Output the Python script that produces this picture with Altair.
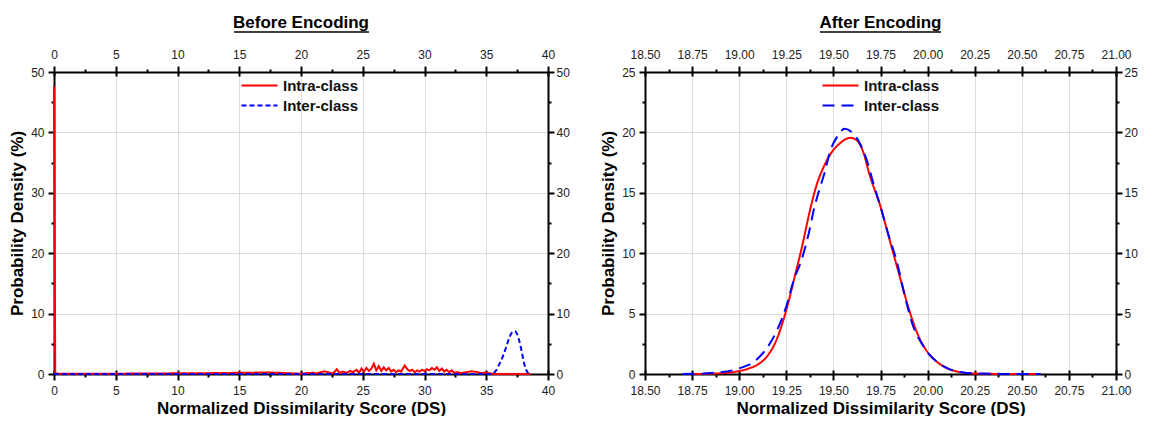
import altair as alt
import pandas as pd

FONT = "Liberation Sans"
SERIES = ["Intra-class", "Inter-class"]
COLORS = ["#ff0000", "#0000ff"]
X_TITLE = "Normalized Dissimilarity Score (DS)"
Y_TITLE = "Probability Density (%)"

# ---------------- Before Encoding (x, y %) ----------------
before_intra = [
    (0.0, 47.6), (0.1, 0.1), (0.5, 0.03), (1.5, 0.03), (3.0, 0.04), (5.0, 0.05),
    (7.0, 0.08), (9.0, 0.1), (11.0, 0.12), (13.0, 0.15), (15.0, 0.2), (16.0, 0.22),
    (17.0, 0.25), (18.0, 0.22), (19.0, 0.12), (20.0, 0.05), (20.5, 0.15), (21.0, 0.2),
    (21.3, 0.1), (21.6, 0.3), (21.9, 0.45), (22.2, 0.3), (22.5, 0.1), (22.7, 0.3),
    (22.9, 0.8), (23.1, 0.2), (23.4, 0.4), (23.7, 0.2), (24.0, 0.5), (24.2, 0.3),
    (24.5, 0.7), (24.7, 0.2), (24.9, 0.9), (25.1, 0.4), (25.3, 1.0), (25.5, 0.5),
    (25.7, 0.9), (25.9, 1.7), (26.1, 0.6), (26.3, 1.3), (26.5, 0.5), (26.7, 1.1),
    (26.9, 0.6), (27.1, 1.0), (27.3, 0.4), (27.5, 0.7), (27.7, 0.3), (27.9, 0.6),
    (28.1, 0.4), (28.4, 1.4), (28.6, 0.8), (28.8, 0.5), (29.0, 0.7), (29.2, 0.3),
    (29.4, 0.6), (29.6, 0.4), (29.8, 0.7), (30.0, 0.5), (30.2, 0.8), (30.4, 0.6),
    (30.6, 1.0), (30.8, 0.7), (31.0, 1.1), (31.2, 0.5), (31.4, 0.9), (31.6, 0.4),
    (31.8, 0.7), (32.0, 0.3), (32.2, 0.6), (32.4, 0.2), (32.7, 0.3), (33.0, 0.15),
    (33.4, 0.3), (33.8, 0.45), (34.2, 0.35), (34.6, 0.15), (35.0, 0.25), (35.3, 0.1),
    (35.6, 0.02), (36.0, 0.0), (38.6, 0.0),
]
before_inter = [
    (0.0, 0.0), (10.0, 0.0), (20.0, 0.0), (30.0, 0.0), (35.4, 0.0), (35.8, 0.6),
    (36.1, 1.8), (36.4, 3.2), (36.65, 4.7), (36.9, 6.2), (37.1, 6.9), (37.3, 7.1),
    (37.5, 6.6), (37.7, 5.3), (37.9, 3.4), (38.1, 1.5), (38.3, 0.4), (38.5, 0.0),
]

# ---------------- After Encoding (x, y %) ----------------
after_intra = [
    (18.75, 0.0), (18.85, 0.03), (18.95, 0.12), (19.0, 0.25), (19.05, 0.45),
    (19.1, 0.8), (19.15, 1.5), (19.2, 2.9), (19.25, 5.3), (19.3, 8.4), (19.33, 10.3),
    (19.375, 13.5), (19.41, 15.6), (19.45, 17.2), (19.48, 18.1), (19.535, 19.1),
    (19.59, 19.55), (19.62, 19.4), (19.66, 18.3), (19.69, 16.6), (19.75, 13.85),
    (19.8, 11.0), (19.85, 8.2), (19.9, 5.4), (19.95, 3.2), (20.0, 1.8), (20.05, 1.0),
    (20.1, 0.5), (20.15, 0.22), (20.2, 0.1), (20.25, 0.04), (20.35, 0.01), (20.6, 0.0),
]
after_inter = [
    (18.7, 0.0), (18.8, 0.03), (18.9, 0.15), (18.95, 0.25), (19.0, 0.47), (19.05, 0.75),
    (19.09, 1.16), (19.14, 2.0), (19.2, 3.6), (19.25, 5.6), (19.29, 7.8), (19.33, 9.4),
    (19.367, 11.5), (19.4, 13.85), (19.43, 15.5), (19.455, 16.75), (19.48, 18.3),
    (19.52, 19.65), (19.56, 20.3), (19.605, 19.9), (19.64, 19.1), (19.677, 17.7),
    (19.71, 15.9), (19.75, 13.85), (19.79, 11.65), (19.835, 9.4), (19.88, 6.4),
    (19.92, 4.1), (19.97, 2.5), (20.01, 1.6), (20.06, 0.9), (20.11, 0.45), (20.18, 0.15),
    (20.25, 0.05), (20.4, 0.01), (20.6, 0.0),
]

# ---------------- ticks ----------------
before_x_major = [0, 5, 10, 15, 20, 25, 30, 35, 40]
before_x_minor = [2.5, 7.5, 12.5, 17.5, 22.5, 27.5, 32.5, 37.5]
before_y_major = [0, 10, 20, 30, 40, 50]
before_y_minor = [5, 15, 25, 35, 45]
after_x_major = [18.5, 18.75, 19.0, 19.25, 19.5, 19.75, 20.0, 20.25, 20.5, 20.75, 21.0]
after_x_minor = [18.625, 18.875, 19.125, 19.375, 19.625, 19.875, 20.125, 20.375, 20.625, 20.875]
after_y_major = [0, 5, 10, 15, 20, 25]
after_y_minor = [2.5, 7.5, 12.5, 17.5, 22.5]


def make_df(intra, inter):
    a = pd.DataFrame(intra, columns=["x", "y"])
    a["series"] = SERIES[0]
    b = pd.DataFrame(inter, columns=["x", "y"])
    b["series"] = SERIES[1]
    return pd.concat([a, b], ignore_index=True)


def ax(orient, values, labels=True, grid=False, title=None, tick=6, fmt=None,
       domain=True, pad=4, tpad=4, offset=0):
    kw = dict(orient=orient, values=values, labels=labels, grid=grid, tickSize=tick,
              domain=domain, title=title, labelPadding=pad, titlePadding=tpad,
              labelFlush=False, labelOverlap=False, offset=offset)
    if fmt:
        kw["format"] = fmt
    return alt.Axis(**kw)


def panel(df, title, xdom, ydom, xmaj, xmin, ymaj, ymin, xfmt, inter_dash,
          legend_x, ul, interp_intra, interp_inter, width):
    xs = alt.Scale(domain=xdom, nice=False, zero=False)
    ys = alt.Scale(domain=ydom, nice=False, zero=False)
    legend = alt.Legend(title=None, orient="none", legendX=legend_x, legendY=6,
                        labelFont=FONT, labelFontSize=15, labelFontWeight="bold",
                        labelColor="#111", symbolType="M-3,0H3", symbolSize=144,
                        symbolStrokeWidth=2, labelOffset=16, rowPadding=4, padding=0)
    color = alt.Color("series:N", scale=alt.Scale(domain=SERIES, range=COLORS), legend=legend)
    dash = alt.StrokeDash("series:N", scale=alt.Scale(domain=SERIES, range=[[1, 0], inter_dash]),
                          legend=legend)
    base = alt.Chart(df)
    intra = base.transform_filter(alt.datum.series == SERIES[0]).mark_line(
        strokeWidth=2, interpolate=interp_intra).encode(
        x=alt.X("x:Q", scale=xs, axis=ax("bottom", xmaj, grid=True, title=X_TITLE, fmt=xfmt, pad=5, tpad=4)),
        y=alt.Y("y:Q", scale=ys, axis=ax("left", ymaj, grid=True, title=Y_TITLE, pad=4, tpad=4)),
        color=color, strokeDash=dash)
    inter = base.transform_filter(alt.datum.series == SERIES[1]).mark_line(
        strokeWidth=2, interpolate=interp_inter).encode(
        x=alt.X("x:Q", scale=xs, axis=ax("top", xmaj, fmt=xfmt, pad=5)),
        y=alt.Y("y:Q", scale=ys, axis=ax("right", ymaj, pad=2)),
        color=color, strokeDash=dash)
    minor1 = base.mark_point(opacity=0).encode(
        x=alt.X("x:Q", scale=xs, axis=ax("bottom", xmin, labels=False, tick=3, domain=False)),
        y=alt.Y("y:Q", scale=ys, axis=ax("left", ymin, labels=False, tick=3, domain=False)))
    minor2 = base.mark_point(opacity=0).encode(
        x=alt.X("x:Q", scale=xs, axis=ax("top", xmin, labels=False, tick=3, domain=False)),
        y=alt.Y("y:Q", scale=ys, axis=ax("right", ymin, labels=False, tick=3, domain=False)))
    inner1 = base.mark_point(opacity=0).encode(
        x=alt.X("x:Q", scale=xs, axis=ax("bottom", xmaj, labels=False, tick=4, domain=False, offset=-4)),
        y=alt.Y("y:Q", scale=ys, axis=None))
    inner2 = base.mark_point(opacity=0).encode(
        x=alt.X("x:Q", scale=xs, axis=ax("top", xmaj, labels=False, tick=4, domain=False, offset=-4)),
        y=alt.Y("y:Q", scale=ys, axis=None))
    underline = alt.Chart(pd.DataFrame({"k": [0]})).mark_rule(color="#000", strokeWidth=1.5).encode(
        x=alt.value(ul[0]), x2=alt.value(ul[1]), y=alt.value(-40))
    return alt.layer(minor1, minor2, inner1, inner2, intra, inter, underline).resolve_axis(
        x="independent", y="independent").properties(
        width=width, height=302,
        title=alt.Title(title, font=FONT, fontSize=17, fontWeight="bold", color="#000",
                        anchor="middle", frame="group", baseline="alphabetic", offset=-14))


left = panel(make_df(before_intra, before_inter), "Before Encoding", [0, 40], [0, 50],
             before_x_major, before_x_minor, before_y_major, before_y_minor, None, [5, 3],
             198, (180, 315), "linear", "monotone", 494)
right = panel(make_df(after_intra, after_inter), "After Encoding", [18.5, 21.0], [0, 25],
              after_x_major, after_x_minor, after_y_major, after_y_minor, ".2f", [12, 7],
              188, (175, 296), "monotone", "monotone", 471)

chart = alt.hconcat(left, right, spacing=29).resolve_scale(
    color="independent", strokeDash="independent"
).resolve_legend(
    color="independent", strokeDash="independent"
).properties(
    padding={"left": 0, "top": 6, "right": 0, "bottom": 0}
).configure_axis(
    labelFont=FONT, labelFontSize=12, labelColor="#222",
    titleFont=FONT, titleFontSize=17, titleFontWeight="bold", titleColor="#000",
    domainColor="#000", domainWidth=2, tickColor="#000", tickWidth=2,
    gridColor="#dcdcdc", gridWidth=1,
).configure_view(stroke=None)

chart.save("out.html", embed_options={"renderer": "svg", "actions": False})
